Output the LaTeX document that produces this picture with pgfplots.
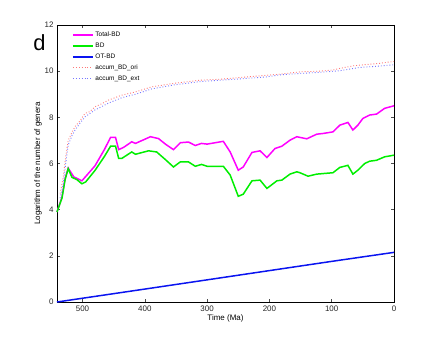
\documentclass[border=0pt]{standalone}
\usepackage{fontspec}
\setmainfont{Liberation Sans}
\usepackage{pgfplots}
\pgfplotsset{compat=1.18}

\definecolor{totbd}{HTML}{FF00FF}
\definecolor{bd}{HTML}{00EE00}
\definecolor{otbd}{HTML}{0A14F0}
\definecolor{accori}{HTML}{FF7777}
\definecolor{accext}{HTML}{7777FF}

\begin{document}
\begin{tikzpicture}
\begin{axis}[
    name=ax,
    scale only axis,
    width=337bp, height=277bp,
    x dir=reverse,
    xmin=0, xmax=541,
    ymin=0, ymax=12,
    xtick={0,100,200,300,400,500},
    ytick={0,2,4,6,8,10,12},
    axis line style={black, line width=0.7pt},
    major tick length=3bp,
    tick style={black!70, line width=0.5pt},
    tick align=inside,
    /pgf/number format/assume math mode=true,
    tick label style={font=\fontsize{8}{9}\selectfont, black!85},
    xlabel={Time (Ma)},
    ylabel={Logarithm of the number of genera},
    label style={font=\fontsize{8}{9}\selectfont},
    xlabel style={yshift=3bp},
    ylabel style={yshift=-4bp},
    legend cell align=left,
    legend style={draw=none, fill=none, at={(0.035,0.99)}, anchor=north west,
        font=\fontsize{6.5}{7}\selectfont, row sep=2bp,
        nodes={inner sep=1.5pt}},
    legend image code/.code={\draw[#1] (0bp,0bp) -- (20bp,0bp);},
    clip=false,
]
\addplot[totbd, line width=1.5pt, legend image post style={line width=2pt}] coordinates {
(541,3.9) (533,4.55) (528,5.35) (523,5.8) (514,5.42) (501,5.25) (480,5.9)
(465,6.6) (455,7.13) (447,7.13) (442,6.6) (434,6.7) (421,6.94) (415,6.87)
(391,7.16) (378,7.08) (367,6.84) (354,6.6) (343,6.9) (330,6.93) (319,6.78)
(309,6.87) (300,6.84) (274,6.96) (263,6.5) (250,5.71) (242,5.85) (228,6.48)
(215,6.55) (204,6.26) (191,6.65) (180,6.75) (167,7.01) (156,7.16) (151,7.13)
(140,7.07) (124,7.27) (114,7.3) (98,7.37) (87,7.66) (74,7.78) (66,7.45)
(58,7.66) (50,7.95) (39,8.1) (28,8.14) (15,8.39) (0,8.5)
};
\addlegendentry{Total-BD}
\addplot[bd, line width=1.5pt, legend image post style={line width=2pt}] coordinates {
(541,3.9) (533,4.5) (528,5.3) (523,5.78) (517,5.4) (509,5.3) (501,5.12)
(495,5.2) (480,5.7) (465,6.3) (455,6.75) (447,6.75) (442,6.22) (437,6.22)
(421,6.5) (415,6.4) (394,6.55) (381,6.5) (367,6.17) (354,5.85) (343,6.07)
(330,6.07) (319,5.88) (309,5.96) (300,5.88) (274,5.88) (263,5.5) (250,4.58)
(242,4.67) (228,5.25) (215,5.28) (204,4.92) (188,5.25) (180,5.28) (167,5.54)
(156,5.64) (151,5.6) (138,5.45) (124,5.54) (98,5.6) (87,5.83) (74,5.92)
(66,5.54) (58,5.71) (47,6.0) (39,6.1) (28,6.14) (15,6.29) (0,6.36)
};
\addlegendentry{BD}
\addplot[otbd, line width=1.5pt, legend image post style={line width=2pt}] coordinates {
(541,0) (400,0.56) (300,0.96) (200,1.36) (100,1.76) (0,2.15)
};
\addlegendentry{OT-BD}
\addplot[accori, line width=0.9pt, dotted, legend image post style={line width=0.9pt}] coordinates {
(536,4.7) (531,5.4) (527,6.3) (523,7.0) (517,7.35) (512,7.6) (504,7.85)
(496,8.17) (488,8.25) (480,8.46) (472,8.55) (458,8.75) (437,8.96) (415,9.1)
(389,9.32) (354,9.47) (311,9.61) (279,9.65) (250,9.72) (205,9.82) (183,9.87)
(151,9.97) (119,10.0) (98,10.05) (87,10.12) (66,10.23) (55,10.26) (23,10.34)
(7,10.4) (0,10.42)
};
\addlegendentry{accum\_BD\_ori}
\addplot[accext, line width=0.9pt, dotted, legend image post style={line width=0.9pt}] coordinates {
(536,4.5) (531,5.1) (527,6.0) (523,6.8) (517,7.2) (512,7.45) (504,7.75)
(496,8.02) (480,8.32) (458,8.62) (437,8.85) (415,9.0) (389,9.23) (354,9.4)
(311,9.55) (250,9.66) (205,9.75) (183,9.84) (151,9.9) (119,9.95) (87,10.02)
(55,10.16) (23,10.22) (7,10.26) (0,10.28)
};
\addlegendentry{accum\_BD\_ext}
\node[font=\fontsize{22}{22}\selectfont] at (rel axis cs:-0.052,0.935) {d};
\end{axis}
\path (ax.south west) ++(-57bp,-38.3bp) rectangle ([xshift=42bp,yshift=25bp]ax.north east);
\end{tikzpicture}
\end{document}
